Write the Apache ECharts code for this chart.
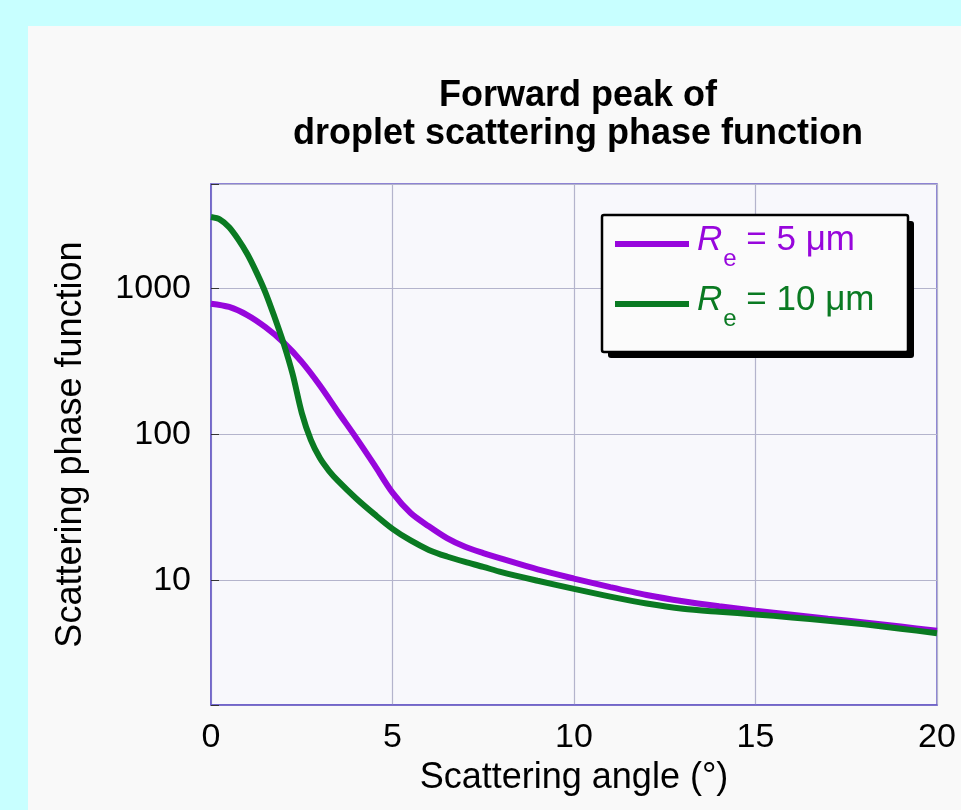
<!DOCTYPE html>
<html>
<head>
<meta charset="utf-8">
<title>Forward peak of droplet scattering phase function</title>
<script src="https://cdn.jsdelivr.net/npm/echarts@6/dist/echarts.min.js"></script>
<style>
  html, body { margin: 0; padding: 0; background: #c8ffff; }
  #main { width: 961px; height: 810px; }
</style>
</head>
<body>
<div id="main"></div>
<script>
// 数据：散射角（度）与相函数值，读自原图
var angles5 = [0, 0.5, 1.0, 1.5, 2.0, 2.5, 3.0, 3.5, 4.0, 4.5, 5.0, 5.5, 6.0, 6.5, 7.0, 7.5, 8.0, 9.0, 10, 11, 12, 13, 14, 15, 16, 17, 18, 19, 20];
var phase5 = [790, 750, 660, 545, 428, 315, 217, 143, 95, 62, 40, 29, 23.5, 19.5, 17, 15.4, 14.1, 11.9, 10.3, 9.0, 7.95, 7.2, 6.65, 6.2, 5.82, 5.47, 5.15, 4.83, 4.52];

var angles10 = [0, 0.25, 0.5, 0.75, 1.0, 1.25, 1.5, 1.75, 2.0, 2.25, 2.5, 2.75, 3.0, 3.25, 3.5, 4.0, 4.5, 5.0, 5.5, 6.0, 6.5, 7.0, 7.5, 8.0, 9.0, 10, 11, 12, 13, 14, 15, 16, 17, 18, 19, 20];
var phase10 = [3100, 2980, 2640, 2180, 1730, 1300, 942, 640, 422, 259, 141, 92, 69, 56.5, 48.2, 36.5, 28.5, 22.6, 18.8, 16.2, 14.6, 13.4, 12.4, 11.4, 9.95, 8.75, 7.75, 6.95, 6.4, 6.1, 5.85, 5.58, 5.3, 5.0, 4.67, 4.35];

var seriesNames = ["Re = 5 μm", "Re = 10 μm"];
var radiusLabels = ["5", "10"];
var xTicks = [0, 5, 10, 15, 20];

var fontName = "'Liberation Sans', Arial, Helvetica, sans-serif";
var purple = "#9706dc";
var green = "#0a7a22";

function toPairs(xs, ys) {
  var out = [];
  for (var i = 0; i < xs.length; i++) {
    out.push([xs[i], ys[i]]);
  }
  return out;
}

// 图例的富文本样式：R 斜体，e 为下标
function legendRich(color) {
  return {
    R: { color: color, fontSize: 35, fontStyle: "italic", fontFamily: fontName, lineHeight: 46, padding: [0, 0, 8, 3] },
    e: { color: color, fontSize: 24, fontFamily: fontName, lineHeight: 46, padding: [30, 0, 0, 1] },
    t: { color: color, fontSize: 35, fontFamily: fontName, lineHeight: 46, padding: [0, 0, 8, 0] },
  };
}
var richP = legendRich(purple);
var richG = legendRich(green);

var chart = echarts.init(document.getElementById("main"));

chart.setOption({
  backgroundColor: "#c8ffff",
  animation: false,
  graphic: [
    // 浅灰色面板
    {
      type: "rect",
      z: -10,
      shape: { x: 28, y: 26, width: 961 - 28, height: 810 - 26 },
      style: { fill: "#f9f9f9" },
    },
    // 标题（两行居中）
    {
      type: "text",
      x: 578,
      y: 77,
      style: {
        text: "Forward peak of\ndroplet scattering phase function",
        font: "bold 36px " + fontName,
        fill: "#000",
        align: "center",
        lineHeight: 38,
      },
    },
    // 图例框阴影
    {
      type: "rect",
      z: 10,
      shape: { x: 608, y: 221, width: 306, height: 137, r: 3 },
      style: { fill: "#000" },
    },
    // 图例框
    {
      type: "rect",
      z: 11,
      shape: { x: 602, y: 215, width: 306, height: 137, r: 2 },
      style: { fill: "#fbfbfb", stroke: "#000", lineWidth: 2.5 },
    },
  ],
  grid: {
    left: 211,
    right: 24,
    top: 184,
    bottom: 105,
    show: true,
    backgroundColor: "#f8f8fc",
    borderColor: "#6a5cc8",
    borderWidth: 1.5,
  },
  legend: {
    z: 20,
    orient: "vertical",
    left: 602,
    top: 215,
    padding: [2, 10, 5, 13],
    itemGap: 6,
    itemWidth: 74,
    itemHeight: 6,
    icon: "rect",
    data: seriesNames,
    formatter: function (name) {
      var idx = seriesNames.indexOf(name);
      var p = idx === 0 ? "p" : "g";
      return "{" + p + "R|R}{" + p + "e|e}{" + p + "t| = " + radiusLabels[idx] + " μm}";
    },
    textStyle: {
      fontFamily: fontName,
      rich: {
        pR: richP.R, pe: richP.e, pt: richP.t,
        gR: richG.R, ge: richG.e, gt: richG.t,
      },
    },
  },
  xAxis: {
    type: "value",
    min: xTicks[0],
    max: xTicks[xTicks.length - 1],
    interval: 5,
    name: "Scattering angle (°)",
    nameLocation: "middle",
    nameGap: 54,
    nameTextStyle: { color: "#000", fontSize: 36, fontFamily: fontName },
    axisLine: { lineStyle: { color: "#6a5cc8", width: 1.5 } },
    axisTick: { show: false },
    axisLabel: { color: "#000", fontSize: 34, fontFamily: fontName, margin: 16 },
    splitLine: { lineStyle: { color: "#b4b4cc", width: 1.2 } },
  },
  yAxis: {
    type: "log",
    logBase: 10,
    min: 1.4,
    max: 5225,
    name: "Scattering phase function",
    nameLocation: "middle",
    nameGap: 122,
    nameTextStyle: { color: "#000", fontSize: 36, fontFamily: fontName },
    axisLine: { lineStyle: { color: "#6a5cc8", width: 1.5 } },
    axisTick: { show: true, inside: true, length: 8, lineStyle: { color: "#333" } },
    axisLabel: {
      color: "#000",
      fontSize: 34,
      fontFamily: fontName,
      margin: 20,
      formatter: function (v) {
        var l = Math.log10(v);
        if (Math.abs(l - Math.round(l)) < 1e-6) {
          return String(Math.round(v));
        }
        return "";
      },
    },
    splitLine: { lineStyle: { color: "#b4b4cc", width: 1.2 } },
    minorTick: { show: false },
  },
  series: [
    {
      name: seriesNames[0],
      type: "line",
      data: toPairs(angles5, phase5),
      smooth: 0.3,
      showSymbol: false,
      color: purple,
      lineStyle: { width: 6, color: purple },
      z: 3,
    },
    {
      name: seriesNames[1],
      type: "line",
      data: toPairs(angles10, phase10),
      smooth: 0.3,
      showSymbol: false,
      color: green,
      lineStyle: { width: 6, color: green },
      z: 4,
    },
  ],
});
</script>
</body>
</html>
